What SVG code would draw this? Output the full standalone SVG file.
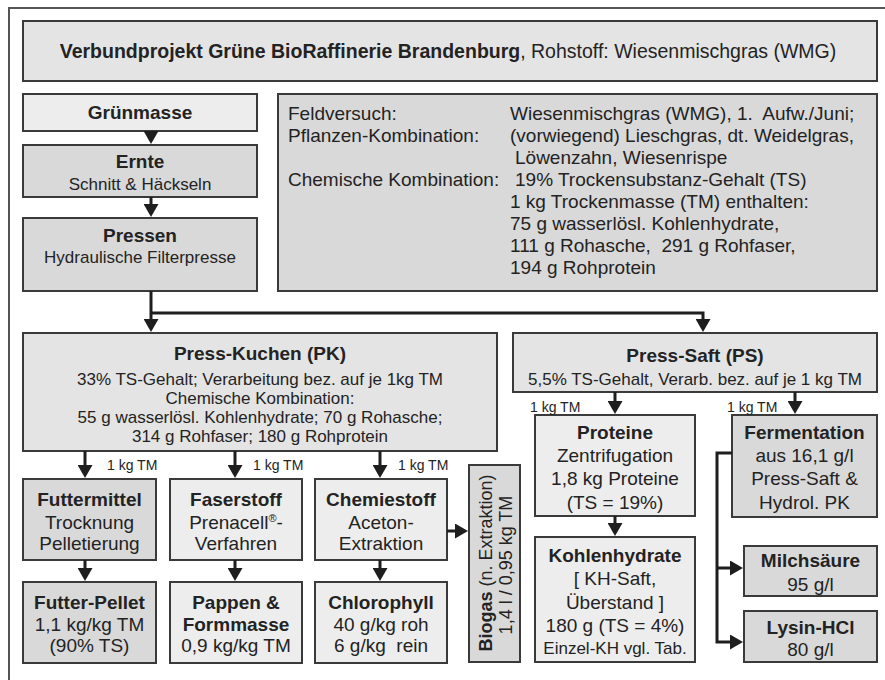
<svg xmlns="http://www.w3.org/2000/svg" width="885" height="680" viewBox="0 0 885 680">
  <style>
    .box { stroke: #3a3a3a; stroke-width: 2; }
    .lt { fill: #ededed; }
    .md { fill: #e4e4e4; }
    .dk { fill: #d9d9d9; }
    text { font-family: "Liberation Sans", Arial, sans-serif; fill: #232323; white-space: pre; }
    .c { text-anchor: middle; }
    .b { font-weight: bold; }
    .f19 { font-size: 19px; }
    .f18 { font-size: 18px; }
    .f17 { font-size: 17px; }
    .f14 { font-size: 14px; }
    .conn { stroke: #1e1e1e; stroke-width: 3; fill: none; }
  </style>
  <defs>
    <marker id="arrow" viewBox="0 0 13 15" refX="9" refY="7.5" markerWidth="13" markerHeight="15" markerUnits="userSpaceOnUse" orient="auto">
      <path d="M0,0 L13,7.5 L0,15 z" fill="#1e1e1e"/>
    </marker>
  </defs>

  <rect width="885" height="680" fill="#ffffff"/>
  <!-- outer frame -->
  <path d="M9,680 V8 H885" fill="none" stroke="#555" stroke-width="2"/>

  <g id="header">
    <rect class="box md" x="23" y="21" width="854" height="60"/>
    <text x="448" y="58" text-anchor="middle" style="font-size:19.5px"><tspan class="b">Verbundprojekt Grüne BioRaffinerie Brandenburg</tspan>, Rohstoff: Wiesenmischgras (WMG)</text>
  </g>

  <g id="gruenmasse">
    <rect class="box lt" x="23" y="94" width="234" height="37"/>
    <text class="c b f19" x="140" y="119">Grünmasse</text>
  </g>

  <g id="ernte">
    <rect class="box dk" x="23" y="145" width="234" height="52"/>
    <text class="c b f19" x="140" y="168">Ernte</text>
    <text class="c f17" x="140" y="190">Schnitt &amp; Häckseln</text>
  </g>

  <g id="pressen">
    <rect class="box dk" x="23" y="218" width="234" height="73"/>
    <text class="c b f19" x="140" y="242">Pressen</text>
    <text class="c f17" x="140" y="263">Hydraulische Filterpresse</text>
  </g>

  <g id="info">
    <rect class="box dk" x="278" y="94" width="599" height="197"/>
    <g class="f19">
      <text x="288" y="120">Feldversuch:</text>
      <text x="510" y="120">Wiesenmischgras (WMG), 1.  Aufw./Juni;</text>
      <text x="288" y="142">Pflanzen-Kombination:</text>
      <text x="510" y="142">(vorwiegend) Lieschgras, dt. Weidelgras,</text>
      <text x="515" y="164">Löwenzahn, Wiesenrispe</text>
      <text x="288" y="186">Chemische Kombination:</text>
      <text x="515" y="186">19% Trockensubstanz-Gehalt (TS)</text>
      <text x="510" y="208">1 kg Trockenmasse (TM) enthalten:</text>
      <text x="510" y="230">75 g wasserlösl. Kohlenhydrate,</text>
      <text x="510" y="252">111 g Rohasche,  291 g Rohfaser,</text>
      <text x="510" y="274">194 g Rohprotein</text>
    </g>
  </g>

  <g id="press-kuchen">
    <rect class="box md" x="23" y="333" width="474" height="118"/>
    <text class="c b f19" x="260" y="360">Press-Kuchen (PK)</text>
    <text class="c f17" x="260" y="385">33% TS-Gehalt; Verarbeitung bez. auf je 1kg TM</text>
    <text class="c f17" x="260" y="404">Chemische Kombination:</text>
    <text class="c f17" x="260" y="423">55 g wasserlösl. Kohlenhydrate; 70 g Rohasche;</text>
    <text class="c f17" x="260" y="442">314 g Rohfaser; 180 g Rohprotein</text>
  </g>

  <g id="press-saft">
    <rect class="box md" x="513" y="333" width="364" height="59"/>
    <text class="c b f19" x="695" y="362">Press-Saft (PS)</text>
    <text class="c f17" x="695" y="385">5,5% TS-Gehalt, Verarb. bez. auf je 1 kg TM</text>
  </g>

  <g id="futtermittel">
    <rect class="box dk" x="23" y="479" width="133" height="81"/>
    <text class="c b f19" x="89.5" y="506">Futtermittel</text>
    <text class="c f19" x="89.5" y="529">Trocknung</text>
    <text class="c f19" x="89.5" y="550">Pelletierung</text>
  </g>

  <g id="faserstoff">
    <rect class="box lt" x="170" y="479" width="132" height="81"/>
    <text class="c b f19" x="236" y="506">Faserstoff</text>
    <text class="c f19" x="236" y="529">Prenacell<tspan font-size="11" dy="-7">®</tspan><tspan dy="7">-</tspan></text>
    <text class="c f19" x="236" y="550">Verfahren</text>
  </g>

  <g id="chemiestoff">
    <rect class="box lt" x="315" y="479" width="132" height="81"/>
    <text class="c b f19" x="381" y="506">Chemiestoff</text>
    <text class="c f19" x="381" y="529">Aceton-</text>
    <text class="c f19" x="381" y="550">Extraktion</text>
  </g>

  <g id="futter-pellet">
    <rect class="box dk" x="23" y="582" width="133" height="81"/>
    <text class="c b f19" x="89.5" y="609">Futter-Pellet</text>
    <text class="c f19" x="89.5" y="631">1,1 kg/kg TM</text>
    <text class="c f19" x="89.5" y="652">(90% TS)</text>
  </g>

  <g id="pappen">
    <rect class="box lt" x="170" y="582" width="132" height="81"/>
    <text class="c b f19" x="236" y="609">Pappen &amp;</text>
    <text class="c b f19" x="236" y="631">Formmasse</text>
    <text class="c f19" x="236" y="652">0,9 kg/kg TM</text>
  </g>

  <g id="chlorophyll">
    <rect class="box lt" x="315" y="582" width="132" height="81"/>
    <text class="c b f19" x="381" y="609">Chlorophyll</text>
    <text class="c f19" x="381" y="631">40 g/kg roh</text>
    <text class="c f19" x="381" y="652">6 g/kg  rein</text>
  </g>

  <g id="biogas">
    <rect class="box dk" x="469" y="465" width="51" height="197"/>
    <text class="c f18" transform="translate(491.5,563) rotate(-90)"><tspan class="b">Biogas</tspan> (n. Extraktion)</text>
    <text class="c f18" transform="translate(511.5,565) rotate(-90)">1,4 l / 0,95 kg TM</text>
  </g>

  <g id="proteine">
    <rect class="box lt" x="535" y="415" width="160" height="101"/>
    <text class="c b f19" x="615" y="439">Proteine</text>
    <text class="c f19" x="615" y="462">Zentrifugation</text>
    <text class="c f19" x="615" y="485">1,8 kg Proteine</text>
    <text class="c f19" x="615" y="509">(TS = 19%)</text>
  </g>

  <g id="kohlenhydrate">
    <rect class="box lt" x="535" y="537" width="160" height="125"/>
    <text class="c b f19" x="615" y="562">Kohlenhydrate</text>
    <text class="c f19" x="615" y="585">[ KH-Saft,</text>
    <text class="c f19" x="615" y="609">Überstand ]</text>
    <text class="c f19" x="615" y="632">180 g (TS = 4%)</text>
    <text class="c f17" x="615" y="654">Einzel-KH vgl. Tab.</text>
  </g>

  <g id="fermentation">
    <rect class="box dk" x="732" y="415" width="145" height="102"/>
    <text class="c b f19" x="804.5" y="439">Fermentation</text>
    <text class="c f19" x="804.5" y="462">aus 16,1 g/l</text>
    <text class="c f19" x="804.5" y="485">Press-Saft &amp;</text>
    <text class="c f19" x="804.5" y="509">Hydrol. PK</text>
  </g>

  <g id="milchsaeure">
    <rect class="box dk" x="744" y="546" width="133" height="50"/>
    <text class="c b f19" x="810.5" y="567">Milchsäure</text>
    <text class="c f19" x="810.5" y="591">95 g/l</text>
  </g>

  <g id="lysin">
    <rect class="box dk" x="744" y="611" width="133" height="51"/>
    <text class="c b f19" x="810.5" y="634">Lysin-HCl</text>
    <text class="c f19" x="810.5" y="656">80 g/l</text>
  </g>

  <g id="connectors">
    <path class="conn" d="M151,131 V140" marker-end="url(#arrow)"/>
    <path class="conn" d="M151,197 V213" marker-end="url(#arrow)"/>
    <path class="conn" d="M151,291 V328" marker-end="url(#arrow)"/>
    <path class="conn" d="M151,313 H703 V328" marker-end="url(#arrow)"/>
    <path class="conn" d="M85,451 V474" marker-end="url(#arrow)"/>
    <path class="conn" d="M235,451 V474" marker-end="url(#arrow)"/>
    <path class="conn" d="M380,451 V474" marker-end="url(#arrow)"/>
    <path class="conn" d="M85,560 V577" marker-end="url(#arrow)"/>
    <path class="conn" d="M235,560 V577" marker-end="url(#arrow)"/>
    <path class="conn" d="M380,560 V577" marker-end="url(#arrow)"/>
    <path class="conn" d="M447,531 H464" marker-end="url(#arrow)"/>
    <path class="conn" d="M615,392 V410" marker-end="url(#arrow)"/>
    <path class="conn" d="M795,392 V410" marker-end="url(#arrow)"/>
    <path class="conn" d="M615,516 V532" marker-end="url(#arrow)"/>
    <path class="conn" d="M732,453 H717 V642 H739" marker-end="url(#arrow)"/>
    <path class="conn" d="M717,568 H739" marker-end="url(#arrow)"/>
    <g class="f14">
      <text x="107" y="470">1 kg TM</text>
      <text x="253" y="470">1 kg TM</text>
      <text x="398" y="470">1 kg TM</text>
      <text x="530" y="412">1 kg TM</text>
      <text x="727" y="412">1 kg TM</text>
    </g>
  </g>
</svg>
